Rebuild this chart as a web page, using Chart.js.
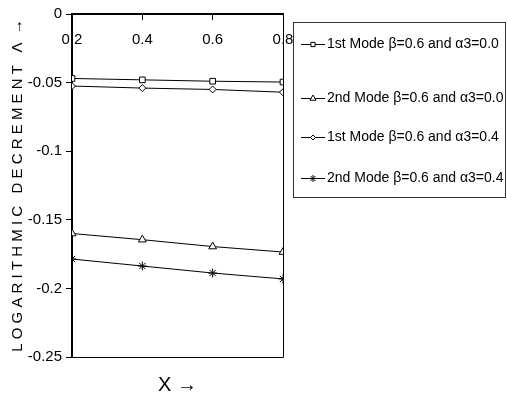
<!DOCTYPE html>
<html>
<head>
<meta charset="utf-8">
<script src="https://cdn.jsdelivr.net/npm/chart.js@4"></script>
<style>
  html,body{margin:0;padding:0;background:#fff}
  #wrap{width:507px;height:400px;position:relative}
</style>
</head>
<body>
<div id="wrap"><canvas id="c"></canvas></div>
<script>
const xVals = [0.2, 0.4, 0.6, 0.8]
const mode1a0 = [-0.047, -0.048, -0.049, -0.0496]
const mode2a0 = [-0.160, -0.1645, -0.1695, -0.1735]
const mode1a4 = [-0.0525, -0.054, -0.055, -0.057]
const mode2a4 = [-0.1786, -0.1837, -0.1888, -0.1931]
const seriesLabels = [
  '1st Mode β=0.6 and α3=0.0',
  '2nd Mode β=0.6 and α3=0.0',
  '1st Mode β=0.6 and α3=0.4',
  '2nd Mode β=0.6 and α3=0.4'
]
const markers = ['rect', 'triangle', 'rectRot', 'star']
const markerSize = [4, 4.5, 3.5, 4.5]
const yTitle = 'L O G A R I T H M I C   D E C R E M E N T   Λ  →'
const xTitle = 'X →'
const FONT = 'Liberation Sans, Arial, sans-serif'

const allSeries = [mode1a0, mode2a0, mode1a4, mode2a4]

// frame on the right/bottom, x title and the boxed legend
const extras = {
  id:'extras',
  afterDraw(chart){
    const {ctx, chartArea:a} = chart
    ctx.save()
    ctx.strokeStyle = '#000'; ctx.lineWidth = 1
    ctx.beginPath()
    ctx.moveTo(a.right+0.5, a.top); ctx.lineTo(a.right+0.5, a.bottom+0.5)
    ctx.lineTo(a.left, a.bottom+0.5)
    ctx.stroke()

    ctx.fillStyle = '#000'
    ctx.font = '20px ' + FONT
    ctx.textAlign = 'center'; ctx.textBaseline = 'middle'
    ctx.fillText(xTitle, (a.left+a.right)/2, 385)

    // legend box
    ctx.strokeStyle = '#333'
    ctx.strokeRect(293.5, 22.5, 212, 175)
    const rows = [44, 98, 137, 178]
    ctx.font = '14px ' + FONT
    ctx.textAlign = 'left'
    rows.forEach((y, i) => {
      ctx.strokeStyle = '#000'
      ctx.beginPath(); ctx.moveTo(301, y+0.5); ctx.lineTo(325, y+0.5); ctx.stroke()
      ctx.fillStyle = '#fff'
      Chart.helpers.drawPoint(ctx, {pointStyle:markers[i], radius:markerSize[i]-1, borderWidth:1}, 313, y+0.5)
      ctx.fillStyle = '#000'
      ctx.fillText(seriesLabels[i], 327, y)
    })
    ctx.restore()
  }
}

new Chart(document.getElementById('c'), {
  type:'line',
  data:{
    datasets: allSeries.map((s, i) => ({
      label: seriesLabels[i],
      data: s.map((v, j) => ({x:xVals[j], y:v})),
      borderColor:'#000', borderWidth:1,
      pointStyle:markers[i], pointRadius:markerSize[i],
      pointBackgroundColor:'#fff', pointBorderColor:'#000', pointBorderWidth:1,
      tension:0
    }))
  },
  options:{
    responsive:true, maintainAspectRatio:false, animation:false,
    layout:{ padding:{ top:14, right:224, bottom:43, left:0 } },
    plugins:{ legend:{display:false}, tooltip:{enabled:false} },
    scales:{
      x:{
        type:'linear', min:0.2, max:0.8, position:{y:0},
        ticks:{ stepSize:0.2, color:'#000', font:{family:FONT, size:15}, padding:12,
          callback:v => v.toFixed(1) },
        grid:{ drawOnChartArea:false, drawTicks:true, tickLength:5, color:'#000' },
        border:{ color:'#000', width:2 }
      },
      y:{
        min:-0.25, max:0,
        afterFit:s => { s.width = 72 },
        ticks:{ stepSize:0.05, color:'#000', font:{family:FONT, size:15}, padding:4,
          callback:v => String(+v.toFixed(2)) },
        grid:{ drawOnChartArea:false, drawTicks:true, tickLength:6, color:'#000' },
        border:{ color:'#000', width:2 },
        title:{ display:true, text:yTitle, color:'#000', font:{family:FONT, size:15}, padding:{top:9, bottom:0} }
      }
    }
  },
  plugins:[extras]
})
</script>
</body>
</html>
